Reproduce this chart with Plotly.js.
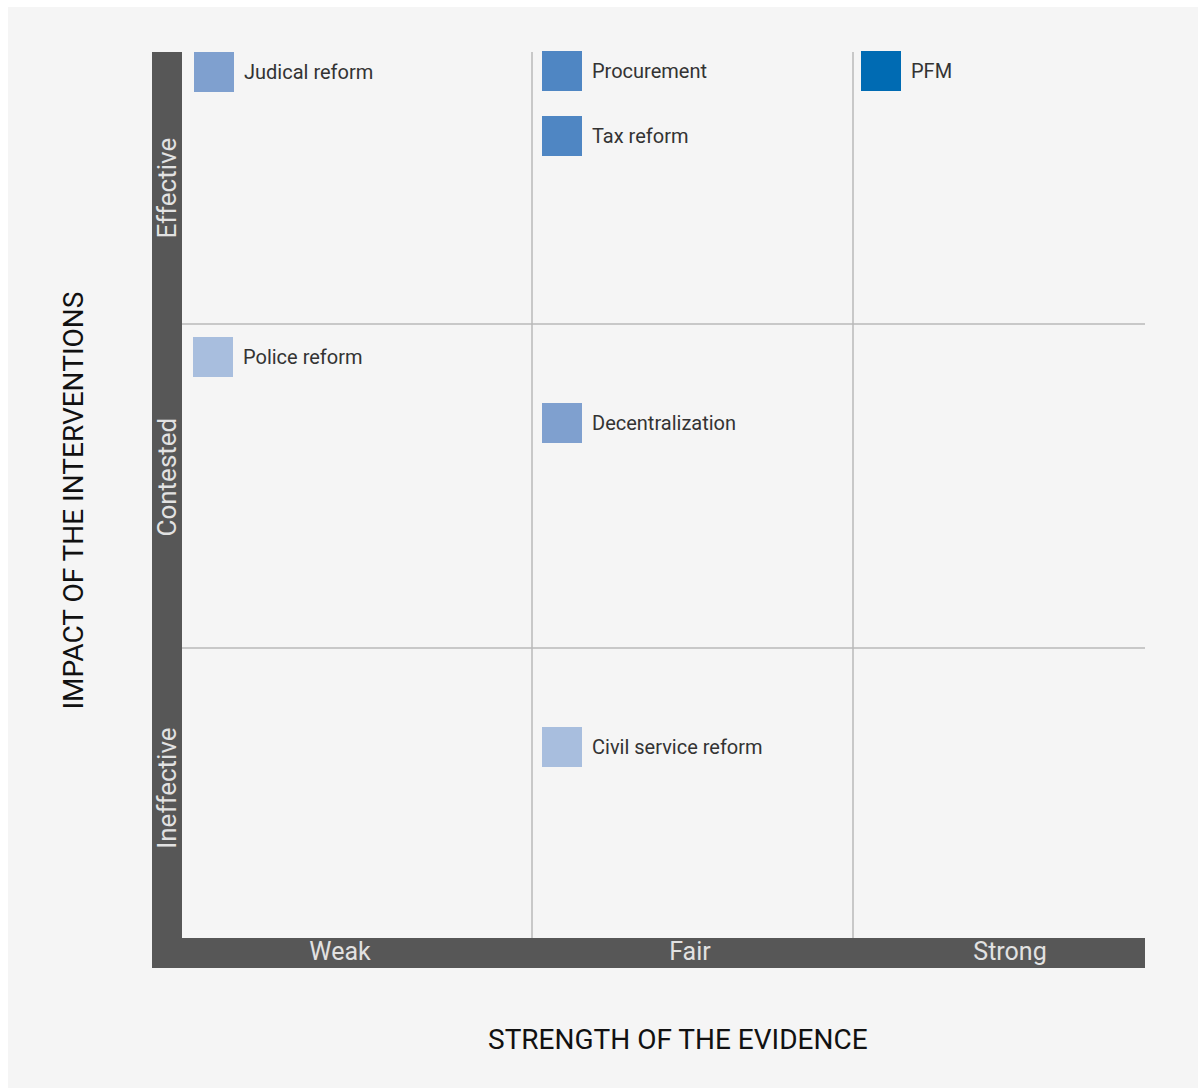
<!DOCTYPE html>
<html>
<head>
<meta charset="utf-8">
<script src="https://cdn.plot.ly/plotly-3.0.1.min.js"></script>
<style>
  html, body { margin: 0; padding: 0; background: #ffffff; }
  #chart { position: absolute; left: 8px; top: 7px; width: 1190px; height: 1081px; }
</style>
</head>
<body>
<div id="chart"></div>
<script>
// Category axes
const evidenceLevels = ['Weak', 'Fair', 'Strong'];
const evidenceLabelPos = [1.58, 5.08, 8.28];
const evidenceEdges = [0, 3.50, 6.71, 9.63];

const impactLevels = ['Ineffective', 'Contested', 'Effective'];
const impactLabelPos = [1.46, 4.57, 7.46];
const impactEdges = [0, 2.90, 6.14, 8.86];

const xTitle = 'STRENGTH OF THE EVIDENCE';
const yTitle = 'IMPACT OF THE INTERVENTIONS';

// Interventions
const interventions = ['Judical reform', 'Procurement', 'Tax reform', 'PFM', 'Police reform', 'Decentralization', 'Civil service reform'];
const evidenceScore = [0.32, 3.80, 3.80, 6.99, 0.31, 3.80, 3.80];
const impactScore  = [8.66, 8.67, 8.02, 8.67, 5.81, 5.15, 1.91];
const markerColors = ['#7fa0cf', '#4f86c3', '#4f86c3', '#006bb3', '#a8bede', '#7fa0cf', '#a8bede'];

const FONT = 'Roboto, "Open Sans", sans-serif';

const trace = {
  type: 'scatter',
  mode: 'markers',
  x: evidenceScore,
  y: impactScore,
  text: interventions,
  hoverinfo: 'text',
  cliponaxis: false,
  marker: { symbol: 'square', size: 40, color: markerColors, line: { width: 0 } }
};

const shapes = [];
// dark frame bars
shapes.push({ type: 'rect', xref: 'paper', yref: 'paper', x0: -30/963, x1: 0, y0: -30/886, y1: 1,
  fillcolor: '#575757', line: { width: 0 }, layer: 'below' });
shapes.push({ type: 'rect', xref: 'paper', yref: 'paper', x0: -30/963, x1: 1, y0: -30/886, y1: 0,
  fillcolor: '#575757', line: { width: 0 }, layer: 'below' });
// grid
evidenceEdges.slice(1, -1).forEach(v => shapes.push({
  type: 'line', xref: 'x', yref: 'paper', x0: v, x1: v, y0: 0, y1: 1,
  line: { color: '#b9b9b9', width: 1.5 }, layer: 'below' }));
impactEdges.slice(1, -1).forEach(v => shapes.push({
  type: 'line', xref: 'paper', yref: 'y', x0: 0, x1: 1, y0: v, y1: v,
  line: { color: '#b9b9b9', width: 1.5 }, layer: 'below' }));

const annotations = interventions.map((name, i) => ({
  x: evidenceScore[i], y: impactScore[i], xref: 'x', yref: 'y',
  text: name, showarrow: false, xanchor: 'left', yanchor: 'middle', xshift: 28,
  font: { family: FONT, size: 20, color: '#333333' }
}));
// axis titles
annotations.push({
  xref: 'paper', yref: 'paper', x: 0.515, y: -0.114, xanchor: 'center', yanchor: 'middle',
  text: xTitle, showarrow: false, font: { family: FONT, size: 28, color: '#111111' }
});
annotations.push({
  xref: 'paper', yref: 'paper', x: -0.113, y: 0.494, xanchor: 'center', yanchor: 'middle',
  text: yTitle, textangle: -90, showarrow: false, font: { family: FONT, size: 28, color: '#111111' }
});

const layout = {
  width: 1190, height: 1081,
  margin: { l: 174, r: 53, t: 45, b: 150 },
  paper_bgcolor: '#f5f5f5',
  plot_bgcolor: 'rgba(0,0,0,0)',
  showlegend: false,
  font: { family: FONT },
  xaxis: {
    range: [evidenceEdges[0], evidenceEdges[3]],
    tickmode: 'array', tickvals: evidenceLabelPos, ticktext: evidenceLevels,
    showgrid: false, zeroline: false, showline: false, ticks: '',
    ticklabelstandoff: -4,
    tickfont: { family: FONT, size: 25, color: '#e2e2e2' },
    fixedrange: true
  },
  yaxis: {
    range: [impactEdges[0], impactEdges[3]],
    tickmode: 'array', tickvals: impactLabelPos, ticktext: impactLevels,
    tickangle: -90,
    showgrid: false, zeroline: false, showline: false, ticks: '',
    ticklabelstandoff: 0,
    tickfont: { family: FONT, size: 26, color: '#e2e2e2' },
    fixedrange: true
  },
  shapes: shapes,
  annotations: annotations
};

Plotly.newPlot('chart', [trace], layout, { displayModeBar: false, staticPlot: true });
</script>
</body>
</html>
